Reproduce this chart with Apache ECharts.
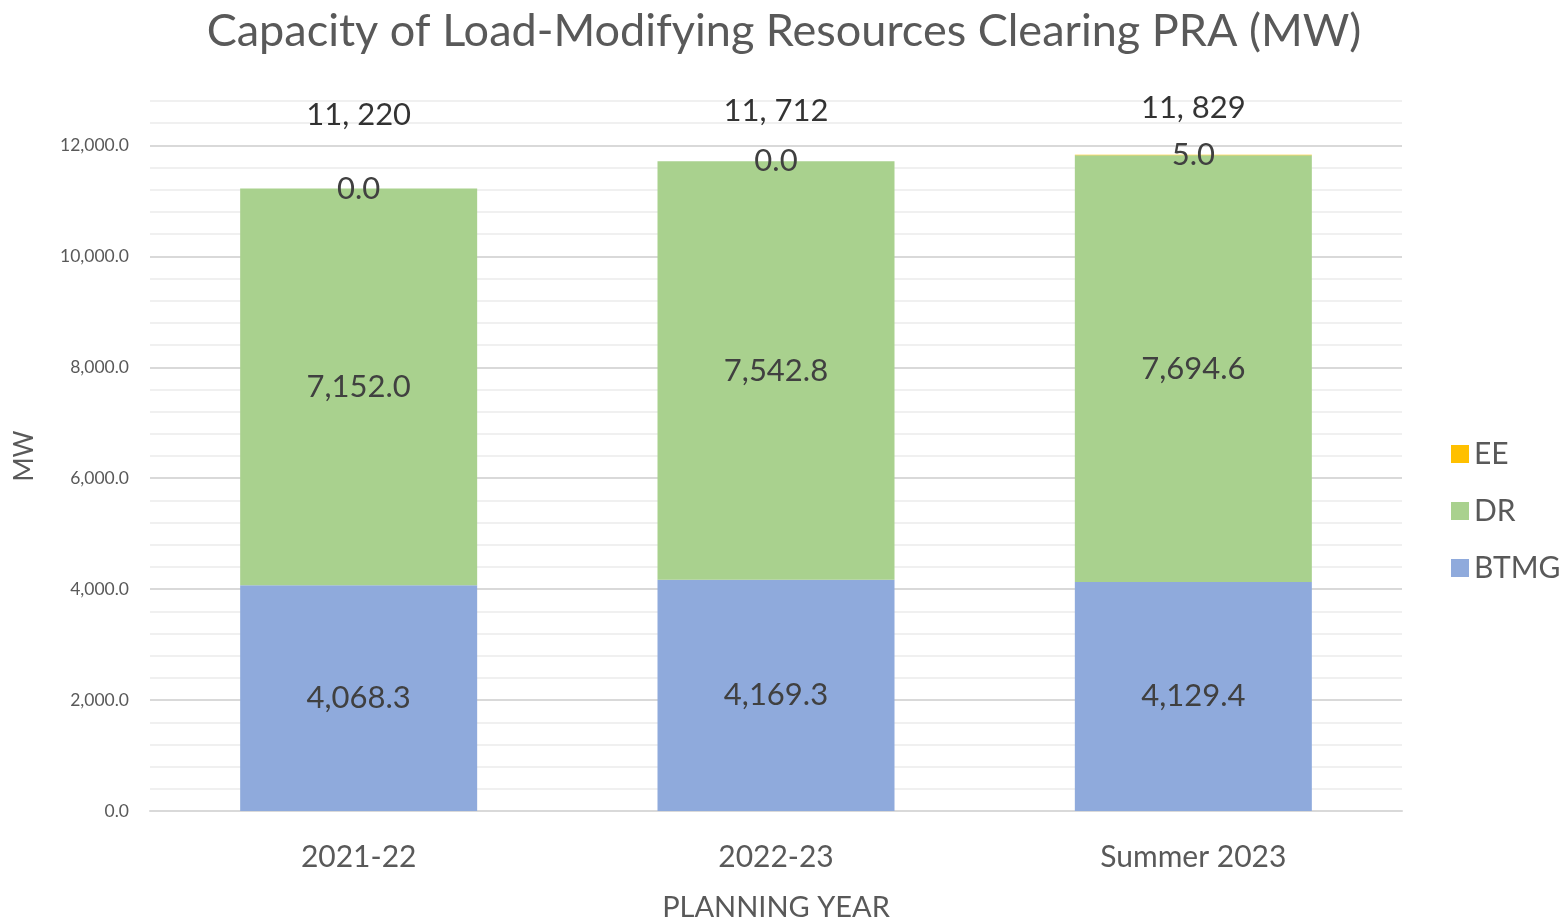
<!DOCTYPE html>
<html>
<head>
<meta charset="utf-8">
<script src="https://cdn.jsdelivr.net/npm/echarts@6/dist/echarts.min.js"></script>
<style>
  html, body { margin: 0; padding: 0; background: #fff; }
  #chart { width: 1563px; height: 921px; }
</style>
</head>
<body>
<div id="chart"></div>
<script>
const years = ["2021-22", "2022-23", "Summer 2023"];
const btmg = [4068.3, 4169.3, 4129.4];
const dr = [7152.0, 7542.8, 7694.6];
const ee = [0.0, 0.0, 5.0];
const totals = [11220, 11712, 11829];

const font = "Lato";
const grey = "#595959";
const dark = "#404040";

// total label lift above bar tops (px), as placed in the original
const totalLift = [74, 50, 47];

const fmt1 = (v) =>
  v.toLocaleString("en-US", { minimumFractionDigits: 1, maximumFractionDigits: 1 });
const fmtTotal = (v) => v.toLocaleString("en-US").replace(",", ", ");

const segLabel = {
  show: true,
  position: "inside",
  color: dark,
  fontFamily: font,
  fontSize: 31,
  formatter: (p) => fmt1(p.value),
};

const chart = echarts.init(document.getElementById("chart"));

chart.setOption({
  animation: false,
  title: {
    text: "Capacity of Load-Modifying Resources Clearing PRA (MW)",
    left: 779,
    textAlign: "center",
    top: 4,
    textStyle: { color: grey, fontFamily: font, fontSize: 45, fontWeight: "normal" },
  },
  legend: {
    orient: "vertical",
    left: 1446,
    top: 434,
    itemWidth: 18,
    itemHeight: 18,
    itemGap: 27,
    icon: "rect",
    data: ["EE", "DR", "BTMG"],
    textStyle: { color: grey, fontFamily: font, fontSize: 30, lineHeight: 30 },
  },
  grid: { left: 150, right: 161, top: 101, bottom: 110, outerBoundsMode: "none" },
  xAxis: {
    type: "category",
    data: years,
    name: "PLANNING YEAR",
    nameLocation: "middle",
    nameGap: 82,
    nameTextStyle: { color: grey, fontFamily: font, fontSize: 29 },
    axisLine: { lineStyle: { color: "#d9d9d9", width: 2 } },
    axisTick: { show: false },
    axisLabel: { color: grey, fontFamily: font, fontSize: 30, margin: 31 },
  },
  yAxis: {
    type: "value",
    min: 0,
    max: 12800,
    interval: 400,
    name: "MW",
    nameLocation: "middle",
    nameGap: 112,
    nameRotate: 90,
    nameTextStyle: { color: grey, fontFamily: font, fontSize: 26 },
    axisLine: { show: false },
    axisTick: { show: false },
    axisLabel: {
      color: grey,
      fontFamily: font,
      fontSize: 17.5,
      margin: 21,
      formatter: (v) => (v % 2000 === 0 ? fmt1(v) : ""),
    },
    splitLine: {
      lineStyle: { color: ["#d9d9d9", "#f0f0f0", "#f0f0f0", "#f0f0f0", "#f0f0f0"], width: 2 },
    },
  },
  series: [
    {
      name: "BTMG",
      type: "bar",
      stack: "lmr",
      barWidth: 237,
      data: btmg,
      itemStyle: { color: "#8faadc" },
      label: segLabel,
    },
    {
      name: "DR",
      type: "bar",
      stack: "lmr",
      barWidth: 237,
      data: dr,
      itemStyle: { color: "#a9d18e" },
      label: segLabel,
    },
    {
      name: "EE",
      type: "bar",
      stack: "lmr",
      barWidth: 237,
      data: ee,
      itemStyle: { color: "#ffc000" },
      label: segLabel,
    },
    {
      name: "Total",
      type: "scatter",
      symbolSize: 0,
      silent: true,
      data: totals.map((t, i) => ({
        value: t,
        label: { offset: [0, -totalLift[i]] },
      })),
      label: {
        show: true,
        position: "inside",
        color: "#000",
        fontFamily: font,
        fontSize: 31,
        formatter: (p) => fmtTotal(p.value),
      },
    },
  ],
});
</script>
</body>
</html>
